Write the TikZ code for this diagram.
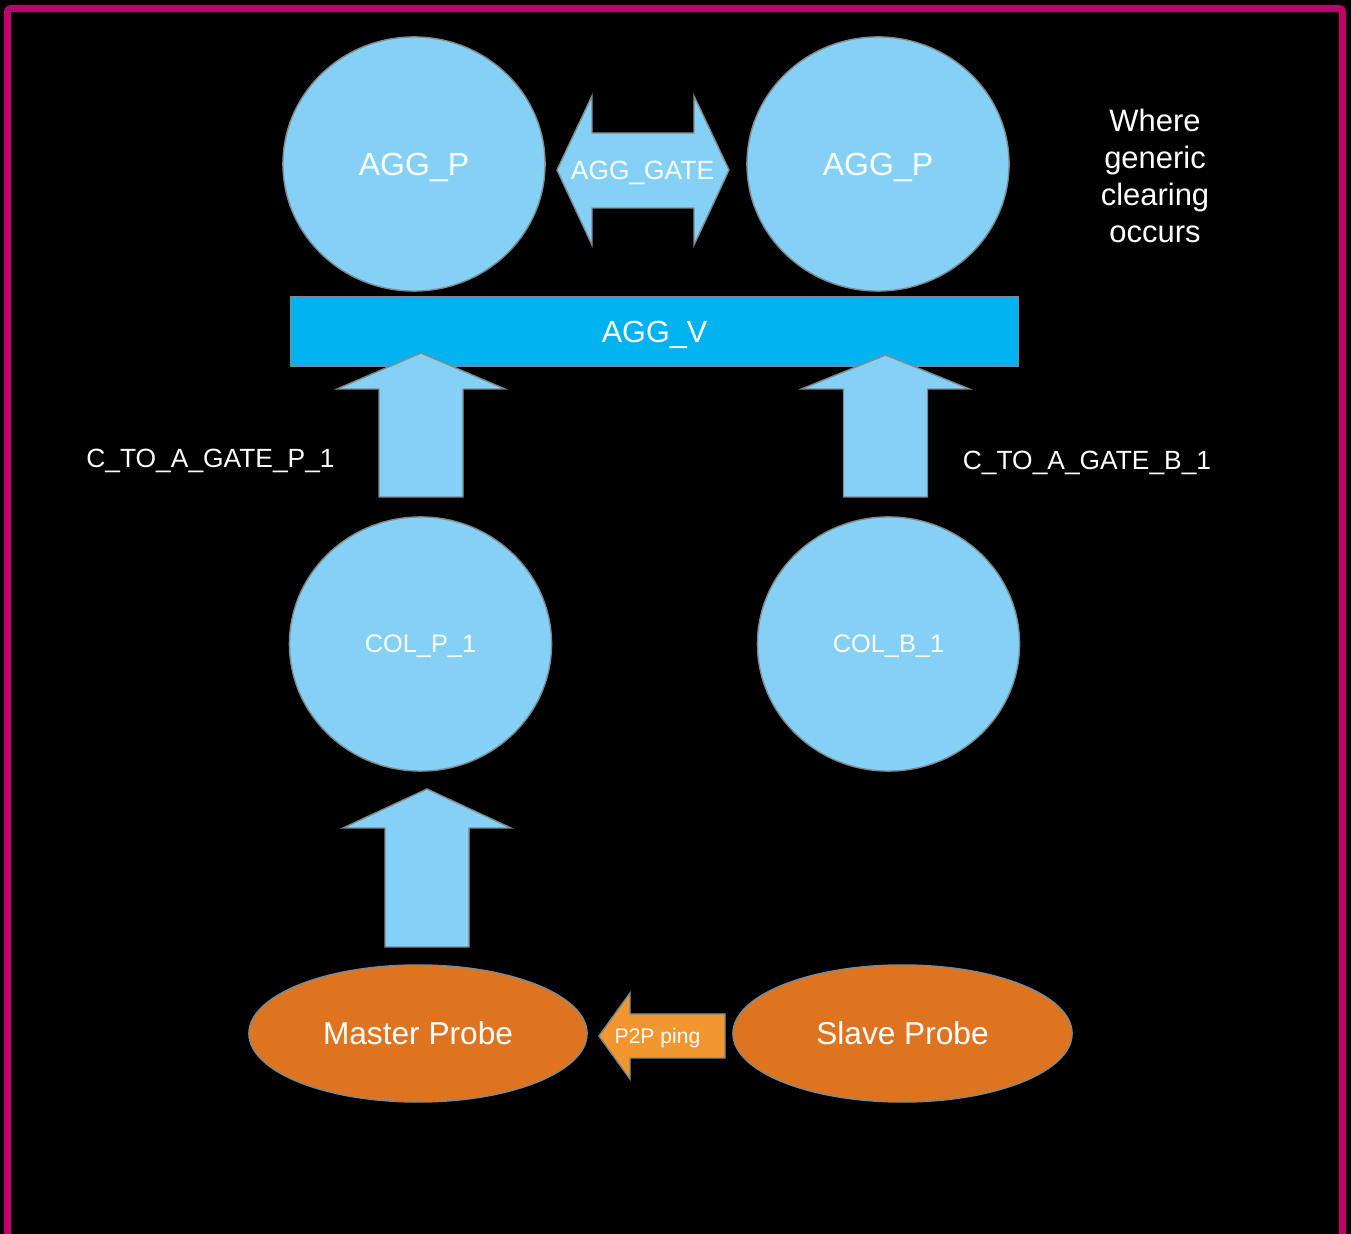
\documentclass[tikz,border=0pt]{standalone}
\usepackage{fontspec}
\setmainfont{Liberation Sans}
\usetikzlibrary{shapes.geometric}
\definecolor{PageBlack}{HTML}{000000}
\definecolor{FrameMagenta}{HTML}{C0006B}
\definecolor{SkyFill}{HTML}{85D1F5}
\definecolor{BarBlue}{HTML}{00B2EF}
\definecolor{EdgeGrey}{HTML}{7F8A90}
\definecolor{ProbeOrange}{HTML}{DE7420}
\definecolor{PingOrange}{HTML}{F29630}

\tikzset{
  outline/.style={draw=EdgeGrey,line width=0.4pt},
  blob/.style={ellipse,outline,fill=SkyFill,text=white,inner sep=0pt,text depth=0pt,
    minimum width=2.62cm,minimum height=2.54cm},
  probe/.style={ellipse,outline,fill=ProbeOrange,text=white,inner sep=0pt,text depth=0pt,
    minimum width=3.38cm,minimum height=1.37cm,font=\fontsize{9}{11}\selectfont},
  blockarrow/.style={outline,fill=SkyFill},
  caption/.style={text=white,inner sep=0pt,text depth=0pt}
}

\begin{document}
\begin{tikzpicture}[x=0.01cm,y=-0.01cm]
  \fill[PageBlack] (0,0) rectangle (1351,1234);
  \useasboundingbox (0,0) rectangle (1351,1234);
  \draw[FrameMagenta,line width=2pt,rounded corners=1pt] (7.5,1300) -- (7.5,8.5) -- (1342.5,8.5) -- (1342.5,1300);

  % aggregation layer
  \node[blob,font=\fontsize{9.1}{11}\selectfont] (aggPLeft) at (414,164) {AGG\_P};
  \node[blob,font=\fontsize{9.1}{11}\selectfont] (aggPRight) at (878,164) {AGG\_P};
  \draw[blockarrow] (557,170) -- (592,96) -- (592,133) -- (694,133) -- (694,96) -- (729,170)
    -- (694,245) -- (694,208) -- (592,208) -- (592,245) -- cycle;
  \node[caption,font=\fontsize{7.5}{9}\selectfont] (aggGate) at (642.5,170) {AGG\_GATE};
  \node[caption,font=\fontsize{8.8}{10.5}\selectfont,align=center] (whereNote) at (1155,176)
    {Where\\generic\\clearing\\occurs};

  \node[outline,fill=BarBlue,text=white,inner sep=0pt,text depth=0pt,minimum width=7.27cm,
    minimum height=0.69cm,font=\fontsize{8.7}{10}\selectfont] (aggV) at (654.5,331.5) {AGG\_V};

  % up arrows
  \foreach \cx/\ytip/\ybase/\ybot in {421/353/389/497,885.5/355/389/497,427/789/828/947}{
    \draw[blockarrow] (\cx,\ytip) -- (\cx+84,\ybase) -- (\cx+42,\ybase) -- (\cx+42,\ybot)
      -- (\cx-42,\ybot) -- (\cx-42,\ybase) -- (\cx-84,\ybase) -- cycle;
  }
  \node[caption,font=\fontsize{7.5}{9}\selectfont] (gateP) at (210.5,458.5) {C\_TO\_A\_GATE\_P\_1};
  \node[caption,font=\fontsize{7.5}{9}\selectfont] (gateB) at (1087,460.5) {C\_TO\_A\_GATE\_B\_1};

  % collectors
  \node[blob,font=\fontsize{7.2}{9}\selectfont] (colP) at (420.5,644) {COL\_P\_1};
  \node[blob,font=\fontsize{7.2}{9}\selectfont] (colB) at (888.5,644) {COL\_B\_1};

  % probes
  \node[probe] (masterProbe) at (418,1033.5) {Master Probe};
  \node[probe,minimum width=3.39cm] (slaveProbe) at (902.5,1033.5) {Slave Probe};
  \draw[outline,fill=PingOrange] (599,1036) -- (630,993) -- (630,1014) -- (725,1014) -- (725,1058)
    -- (630,1058) -- (630,1079) -- cycle;
  \node[caption,font=\fontsize{6}{7}\selectfont] (ping) at (657.5,1035.5) {P2P ping};
\end{tikzpicture}
\end{document}
